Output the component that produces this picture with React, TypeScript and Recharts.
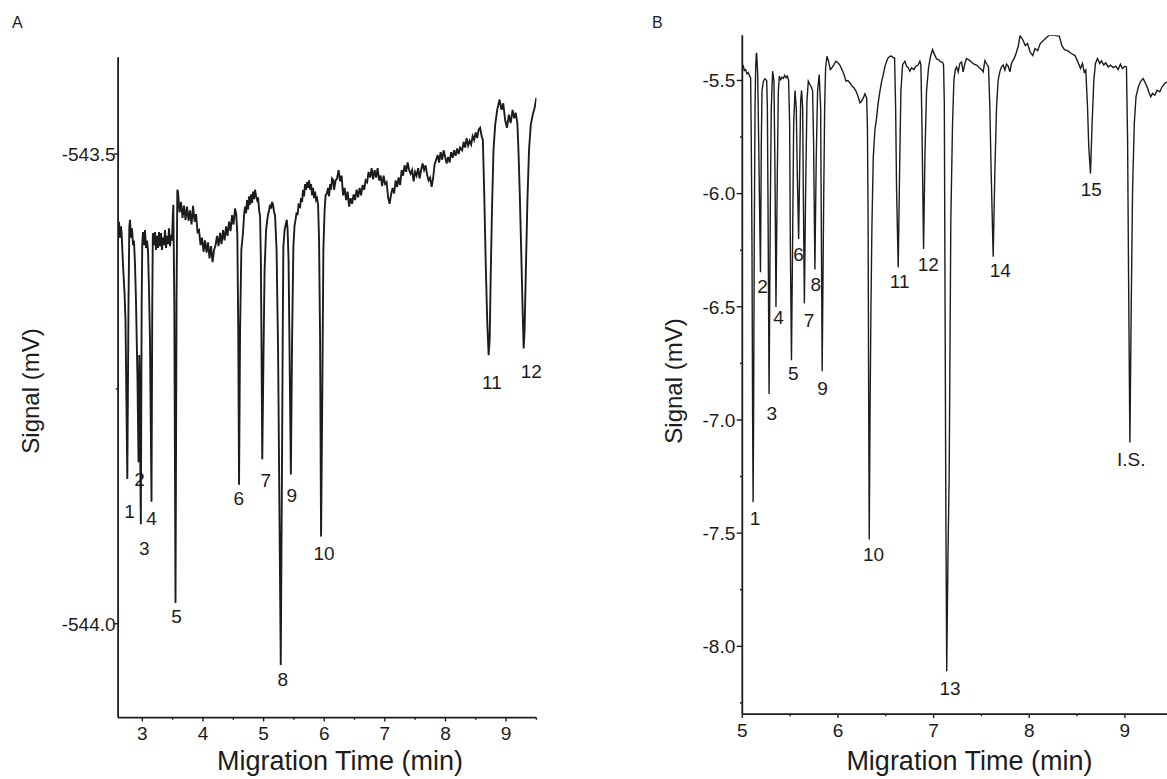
import React from 'react';
import { LineChart, Line, XAxis, YAxis, ReferenceDot } from 'recharts';

// ---------- Panel A data (migration time, min / signal, mV) ----------
const timeA = [
  2.600, 2.615, 2.631, 2.648, 2.659, 2.681, 2.706, 2.722, 2.752, 2.772, 2.785, 2.796, 2.813, 2.829, 2.846, 2.862,
  2.879, 2.895, 2.920, 2.937, 2.950, 2.975, 2.989, 2.999, 3.011, 3.027, 3.044, 3.060, 3.077, 3.093, 3.110, 3.126,
  3.151, 3.164, 3.173, 3.192, 3.209, 3.225, 3.242, 3.258, 3.275, 3.291, 3.308, 3.324, 3.341, 3.357, 3.374, 3.390,
  3.407, 3.424, 3.440, 3.457, 3.473, 3.489, 3.503, 3.511, 3.527, 3.547, 3.564, 3.577,
  3.588, 3.613, 3.638, 3.663, 3.687, 3.712, 3.737, 3.762, 3.786, 3.811, 3.836, 3.861, 3.886, 3.910, 3.935, 3.960,
  3.985, 4.009, 4.034, 4.059, 4.084, 4.108, 4.133, 4.158, 4.183, 4.207, 4.232, 4.257, 4.282, 4.306, 4.331, 4.356,
  4.381, 4.404, 4.430, 4.455, 4.480, 4.504, 4.529, 4.549,
  4.567, 4.582, 4.595, 4.612, 4.633, 4.661, 4.678, 4.694, 4.711, 4.727, 4.744, 4.760, 4.777, 4.793, 4.810, 4.826,
  4.843, 4.859, 4.876, 4.893, 4.909, 4.926, 4.942,
  4.955, 4.966, 4.978, 4.999, 5.016, 5.041, 5.057, 5.074, 5.090, 5.107, 5.123, 5.140, 5.156, 5.173, 5.189,
  5.214, 5.239, 5.260, 5.283, 5.305, 5.316, 5.326, 5.346, 5.362, 5.382, 5.395,
  5.412, 5.428, 5.450, 5.470, 5.491, 5.511, 5.527, 5.544, 5.560, 5.577, 5.602, 5.618, 5.635, 5.651, 5.668, 5.684,
  5.701, 5.717, 5.734, 5.750, 5.767, 5.783, 5.800, 5.816, 5.833, 5.849, 5.866, 5.882, 5.899,
  5.915, 5.932, 5.948, 5.970, 5.986, 6.006, 6.023, 6.042, 6.064, 6.080, 6.097, 6.113, 6.130, 6.151,
  6.163, 6.188, 6.212, 6.237, 6.262, 6.287, 6.311, 6.336, 6.361, 6.386, 6.410, 6.435, 6.460, 6.485, 6.509, 6.534,
  6.559, 6.584, 6.608, 6.633, 6.658, 6.683, 6.707, 6.732, 6.757, 6.782, 6.806, 6.831, 6.856, 6.881, 6.905, 6.930,
  6.955, 6.980, 7.004, 7.029, 7.054, 7.079, 7.103, 7.128, 7.153, 7.178, 7.202, 7.227, 7.252, 7.277, 7.301, 7.326,
  7.351, 7.376, 7.400, 7.425, 7.450, 7.475, 7.499, 7.524, 7.549, 7.574, 7.598, 7.623, 7.648, 7.673, 7.697, 7.722,
  7.747, 7.772, 7.796, 7.821, 7.846, 7.871, 7.895, 7.920, 7.945, 7.970, 7.994, 8.019, 8.044, 8.069, 8.093, 8.118,
  8.143, 8.168, 8.193, 8.217, 8.242, 8.275, 8.300, 8.325, 8.349, 8.374, 8.399, 8.424, 8.448, 8.473, 8.498, 8.523,
  8.547, 8.572, 8.597, 8.617,
  8.638, 8.663, 8.688, 8.712, 8.729, 8.745, 8.767, 8.792, 8.820, 8.853, 8.892, 8.924, 8.953, 8.985, 9.014, 9.046,
  9.075, 9.107, 9.133, 9.158, 9.186, 9.204,
  9.224, 9.249, 9.273, 9.290, 9.305, 9.326, 9.352, 9.378, 9.407, 9.440, 9.470, 9.500,
];
const signalA = [
  -543.581, -543.572, -543.589, -543.577, -543.586, -543.618, -543.648, -543.677, -543.846, -543.656, -543.578, -543.570, -543.589, -543.579, -543.597, -543.592,
  -543.618, -543.656, -543.741, -543.828, -543.714, -543.894, -543.656, -543.595, -543.583, -543.597, -543.581, -543.600, -543.592, -543.602, -543.645, -543.698,
  -543.870, -543.656, -543.584, -543.597, -543.583, -543.602, -543.587, -543.600, -543.583, -543.598, -543.584, -543.602, -543.589, -543.597, -543.581, -543.600,
  -543.587, -543.596, -543.579, -543.598, -543.586, -543.592, -543.565, -543.554, -543.656, -543.978, -543.656, -543.538,
  -543.540, -543.562, -543.551, -543.568, -543.555, -543.570, -543.556, -543.571, -543.560, -543.575, -543.555, -543.572, -543.564, -543.583, -543.581, -543.597,
  -543.589, -543.604, -543.592, -543.605, -543.594, -543.611, -543.598, -543.615, -543.602, -543.597, -543.587, -543.598, -543.584, -543.596, -543.581, -543.592,
  -543.577, -543.587, -543.572, -543.582, -543.565, -543.575, -543.558, -543.564,
  -543.586, -543.688, -543.852, -543.688, -543.602, -543.583, -543.565, -543.556, -543.563, -543.549, -543.559, -543.545, -543.554, -543.543, -543.552, -543.540,
  -543.548, -543.538, -543.545, -543.549, -543.546, -543.560, -543.566,
  -543.613, -543.709, -543.825, -543.709, -543.624, -543.581, -543.572, -543.564, -543.560, -543.554, -543.558, -543.551, -543.554, -543.562, -543.565,
  -543.602, -543.709, -543.869, -544.044, -543.815, -543.688, -543.599, -543.581, -543.576, -543.570, -543.579,
  -543.613, -543.709, -543.841, -543.698, -543.599, -543.576, -543.570, -543.562, -543.565, -543.554, -543.556, -543.547, -543.551, -543.538, -543.545, -543.532,
  -543.538, -543.530, -543.536, -543.528, -543.538, -543.532, -543.544, -543.536, -543.547, -543.540, -543.549, -543.547, -543.554,
  -543.592, -543.698, -543.907, -543.741, -543.602, -543.560, -543.544, -543.542, -543.536, -543.545, -543.532, -543.538, -543.526, -543.528,
  -543.538, -543.528, -543.526, -543.517, -543.529, -543.523, -543.544, -543.536, -543.549, -543.540, -543.556, -543.547, -543.553, -543.543, -543.549, -543.538,
  -543.546, -543.536, -543.544, -543.533, -543.538, -543.528, -543.530, -543.519, -543.525, -543.515, -543.527, -543.517, -543.525, -543.515, -543.528, -543.523,
  -543.534, -543.523, -543.532, -543.530, -543.546, -543.553, -543.543, -543.536, -543.542, -543.528, -543.535, -543.525, -543.533, -543.517, -543.523, -543.512,
  -543.519, -543.509, -543.517, -543.521, -543.517, -543.529, -543.519, -543.523, -543.515, -543.526, -543.517, -543.510, -543.517, -543.512, -543.522, -543.528,
  -543.525, -543.535, -543.526, -543.511, -543.506, -543.501, -543.509, -543.498, -543.506, -543.496, -543.503, -543.510, -543.503, -543.509, -543.498, -543.504,
  -543.496, -543.502, -543.494, -543.500, -543.493, -543.496, -543.487, -543.493, -543.483, -543.491, -543.486, -543.490, -543.481, -543.485, -543.477, -543.483,
  -543.474, -543.472, -543.481, -543.485,
  -543.538, -543.613, -543.677, -543.714, -543.698, -543.634, -543.560, -543.496, -543.469, -543.453, -543.442, -543.453, -543.446, -543.464, -543.472, -543.458,
  -543.467, -543.453, -543.462, -543.456, -543.467, -543.496,
  -543.538, -543.602, -543.666, -543.707, -543.688, -543.624, -543.549, -543.496, -543.469, -543.458, -543.451, -543.440,
];
const peakNamesA = ['1', '2', '3', '4', '5', '6', '7', '8', '9', '10', '11', '12'];
const peakLabelTimeA = [2.787, 2.955, 3.030, 3.152, 3.566, 4.590, 5.035, 5.315, 5.467, 5.997, 8.765, 9.415];
const peakLabelSignalA = [-543.880, -543.846, -543.919, -543.888, -543.992, -543.866, -543.847, -544.059, -543.863, -543.925, -543.743, -543.731];
const xTicksA = [3, 3.5, 4, 4.5, 5, 5.5, 6, 6.5, 7, 7.5, 8, 8.5, 9, 9.5];
const yTicksA = [-544.0, -543.75, -543.5];

// ---------- Panel B data ----------
const timeB = [
  5.000, 5.011, 5.021, 5.035, 5.049, 5.063, 5.077, 5.087, 5.094, 5.101, 5.108, 5.113, 5.118, 5.125, 5.133, 5.140,
  5.146, 5.150, 5.161, 5.171, 5.190, 5.199, 5.206, 5.220, 5.237, 5.255, 5.262, 5.269, 5.280, 5.293, 5.303, 5.317,
  5.331, 5.342, 5.352, 5.366, 5.377, 5.387, 5.401, 5.415, 5.429, 5.443, 5.457, 5.471, 5.484, 5.495, 5.502, 5.514,
  5.526, 5.537, 5.551, 5.564, 5.575, 5.589, 5.600, 5.610, 5.620, 5.631, 5.638, 5.649, 5.662, 5.676, 5.690, 5.707,
  5.725, 5.735, 5.745, 5.759, 5.773, 5.787, 5.804, 5.819, 5.825, 5.835, 5.850, 5.861, 5.871, 5.885, 5.902, 5.920,
  5.937, 5.958, 5.979, 6.000, 6.021, 6.042, 6.063, 6.084, 6.104, 6.125, 6.146, 6.167, 6.188, 6.209, 6.230, 6.247,
  6.265, 6.282, 6.300,
  6.308, 6.315, 6.321, 6.327, 6.335, 6.345, 6.355, 6.369, 6.386, 6.404, 6.420, 6.439, 6.456, 6.474, 6.490, 6.509,
  6.525, 6.544, 6.561, 6.578, 6.592,
  6.603, 6.613, 6.630, 6.644, 6.658, 6.676, 6.700, 6.717, 6.735, 6.752, 6.770, 6.794, 6.815, 6.836, 6.857, 6.867,
  6.878, 6.895, 6.909, 6.926, 6.947, 6.968, 6.989, 7.010, 7.031, 7.052, 7.073, 7.094, 7.104,
  7.112, 7.120, 7.128, 7.137, 7.150, 7.163, 7.180, 7.198, 7.212, 7.226, 7.240, 7.257, 7.274, 7.292, 7.309, 7.327,
  7.344, 7.372, 7.396, 7.421, 7.449, 7.476, 7.501, 7.518, 7.536, 7.553, 7.574,
  7.588, 7.602, 7.623, 7.640, 7.658, 7.675, 7.692, 7.710, 7.727, 7.745, 7.762, 7.780, 7.797, 7.814, 7.832, 7.849,
  7.867, 7.873, 7.884, 7.904, 7.932, 7.959, 7.982, 8.010, 8.037, 8.060, 8.088, 8.115, 8.146, 8.177, 8.209, 8.244,
  8.283, 8.314, 8.341, 8.368, 8.400, 8.439, 8.478, 8.509, 8.536, 8.556, 8.575, 8.591,
  8.609, 8.622, 8.640, 8.657, 8.675, 8.692, 8.713, 8.737, 8.755, 8.779, 8.800, 8.824, 8.849, 8.877, 8.905, 8.929,
  8.953, 8.974, 8.999, 9.016,
  9.028, 9.038, 9.052, 9.066, 9.080, 9.098, 9.116, 9.141, 9.162, 9.190, 9.208, 9.232, 9.253, 9.270, 9.288, 9.312,
  9.336, 9.364, 9.389, 9.417, 9.437,
];
const signalB = [
  -5.444, -5.437, -5.456, -5.452, -5.471, -5.466, -5.481, -5.488, -5.767, -6.208, -7.000, -7.363, -7.000, -6.200, -5.621, -5.444,
  -5.385, -5.378, -5.474, -5.767, -6.347, -5.767, -5.547, -5.503, -5.493, -5.500, -5.621, -6.061, -6.885, -6.061, -5.621, -5.459,
  -5.503, -5.914, -6.501, -5.914, -5.547, -5.481, -5.496, -5.486, -5.491, -5.477, -5.488, -5.481, -5.500, -5.694, -6.208, -6.736,
  -6.208, -5.694, -5.544, -5.621, -5.914, -6.200, -5.885, -5.591, -5.544, -5.621, -5.988, -6.485, -5.988, -5.591, -5.503, -5.518,
  -5.532, -5.547, -5.767, -6.335, -5.841, -5.547, -5.474, -5.621, -6.061, -6.785, -6.061, -5.621, -5.444, -5.393, -5.415, -5.452,
  -5.444, -5.430, -5.415, -5.422, -5.433, -5.452, -5.474, -5.503, -5.500, -5.510, -5.525, -5.532, -5.547, -5.569, -5.599, -5.591,
  -5.577, -5.559, -5.577,
  -5.700, -6.100, -6.900, -7.528, -7.000, -6.500, -6.150, -5.841, -5.720, -5.665, -5.600, -5.547, -5.505, -5.474, -5.440, -5.415,
  -5.400, -5.393, -5.393, -5.400, -5.400,
  -5.621, -5.988, -6.325, -5.914, -5.547, -5.430, -5.415, -5.437, -5.444, -5.459, -5.444, -5.452, -5.437, -5.433, -5.415, -5.430,
  -5.694, -6.245, -5.841, -5.547, -5.444, -5.393, -5.364, -5.386, -5.405, -5.408, -5.418, -5.420, -5.432,
  -5.600, -6.500, -7.400, -8.110, -7.600, -7.235, -6.117, -5.690, -5.499, -5.454, -5.440, -5.462, -5.425, -5.418, -5.462, -5.425,
  -5.403, -5.410, -5.418, -5.428, -5.432, -5.443, -5.452, -5.462, -5.413, -5.425, -5.440,
  -5.616, -5.911, -6.279, -5.911, -5.616, -5.499, -5.462, -5.440, -5.432, -5.454, -5.428, -5.437, -5.462, -5.425, -5.410, -5.396,
  -5.374, -5.364, -5.351, -5.302, -5.320, -5.346, -5.337, -5.375, -5.390, -5.359, -5.368, -5.337, -5.324, -5.311, -5.300, -5.300,
  -5.302, -5.304, -5.346, -5.364, -5.368, -5.381, -5.390, -5.419, -5.447, -5.425, -5.463, -5.454,
  -5.616, -5.793, -5.911, -5.690, -5.499, -5.425, -5.403, -5.425, -5.413, -5.432, -5.422, -5.440, -5.432, -5.443, -5.437, -5.452,
  -5.428, -5.447, -5.437, -5.440,
  -5.763, -6.352, -7.100, -6.499, -5.984, -5.690, -5.572, -5.528, -5.506, -5.491, -5.506, -5.528, -5.555, -5.572, -5.557, -5.565,
  -5.543, -5.550, -5.528, -5.513, -5.506,
];
const peakNamesB = ['1', '2', '3', '4', '5', '6', '7', '8', '9', '10', '11', '12', '13', '14', '15', 'I.S.'];
const peakLabelTimeB = [5.133, 5.211, 5.308, 5.378, 5.534, 5.589, 5.698, 5.768, 5.838, 6.372, 6.645, 6.945, 7.172, 7.698, 8.648, 9.066];
const peakLabelSignalB = [-7.435, -6.407, -6.968, -6.546, -6.792, -6.268, -6.561, -6.398, -6.858, -7.594, -6.385, -6.310, -8.187, -6.340, -5.980, -7.172];
const xTicksB = [5, 5.5, 6, 6.5, 7, 7.5, 8, 8.5, 9];
const yTicksB = [-8.25, -8.0, -7.75, -7.5, -7.25, -7.0, -6.75, -6.5, -6.25, -6.0, -5.75, -5.5];

const dataA = timeA.map((t, i) => ({ t, v: signalA[i] }));
const dataB = timeB.map((t, i) => ({ t, v: signalB[i] }));

const FONT = '"Liberation Sans", Arial, Helvetica, sans-serif';
const INK = '#1c1c1c';
const TICK_FS = 19;

const isMultiple = (v: number, step: number) => Math.abs(v / step - Math.round(v / step)) < 1e-6;

function makeXTick(axisY: number) {
  return (props: any) => {
    const { x, payload } = props;
    const v = payload.value as number;
    const major = isMultiple(v, 1);
    return (
      <g>
        <line x1={x} x2={x} y1={axisY} y2={axisY + (major ? 3.8 : 2)} stroke={INK} strokeWidth={1.4} />
        {major && (
          <text x={x} y={axisY + 22.3} textAnchor="middle" fontSize={TICK_FS} fontFamily={FONT} fill={INK}>
            {String(v)}
          </text>
        )}
      </g>
    );
  };
}

function makeYTick(axisX: number, majorLen: number, labelGap: number) {
  return (props: any) => {
    const { y, payload } = props;
    const v = payload.value as number;
    const major = isMultiple(v, 0.5);
    return (
      <g>
        <line x1={axisX - (major ? majorLen : 2.3)} x2={axisX} y1={y} y2={y} stroke={INK} strokeWidth={1.4} />
        {major && (
          <text x={axisX - labelGap} y={y} dy="0.36em" textAnchor="end" fontSize={TICK_FS} fontFamily={FONT} fill={INK}>
            {v.toFixed(1)}
          </text>
        )}
      </g>
    );
  };
}

const peakText = (name: string) => (p: any) => (
  <text x={p.cx} y={p.cy} dy="0.36em" textAnchor="middle" fontSize={19} fontFamily={FONT} fill={INK}>
    {name}
  </text>
);

const xTitle = (cx: number) => () => (
  <text x={cx} y={770} textAnchor="middle" fontSize={27} fontFamily={FONT} fill={INK}>
    Migration Time (min)
  </text>
);
const yTitle = (cx: number, cy: number) => () => (
  <text
    transform={`translate(${cx},${cy}) rotate(-90)`}
    dy="0.36em"
    textAnchor="middle"
    fontSize={24}
    fontFamily={FONT}
    fill={INK}
  >
    Signal (mV)
  </text>
);

export default function App() {
  return (
    <div style={{ position: 'absolute', left: 0, top: 0, width: 1167, height: 779, overflow: 'hidden', background: '#fff' }}>
      <div style={{ position: 'absolute', left: 0, top: 0 }}>
        <LineChart width={580} height={779} data={dataA} margin={{ top: 57.3, right: 43.6, bottom: 31.3, left: 0 }}>
          <XAxis
            type="number"
            dataKey="t"
            domain={[2.6, 9.5]}
            ticks={xTicksA}
            interval={0}
            allowDataOverflow
            height={30}
            tickLine={false}
            axisLine={{ stroke: INK, strokeWidth: 1.8 }}
            tick={makeXTick(717.7)}
            label={xTitle(340)}
          />
          <YAxis
            type="number"
            domain={[-544.1, -543.397]}
            ticks={yTicksA}
            interval={0}
            allowDataOverflow
            width={118.1}
            tickLine={false}
            axisLine={{ stroke: INK, strokeWidth: 1.8 }}
            tick={makeYTick(118.1, 4.3, 2.5)}
            label={yTitle(30, 391)}
          />
          <Line type="linear" dataKey="v" stroke={INK} strokeWidth={1.9} dot={false} isAnimationActive={false} />
          {peakNamesA.map((n, i) => (
            <ReferenceDot key={'a' + n} x={peakLabelTimeA[i]} y={peakLabelSignalA[i]} r={0} shape={peakText(n)} />
          ))}
        </LineChart>
      </div>
      <div style={{ position: 'absolute', left: 580, top: 0 }}>
        <LineChart width={587} height={779} data={dataB} margin={{ top: 35.2, right: 0, bottom: 34.8, left: 0 }}>
          <XAxis
            type="number"
            dataKey="t"
            domain={[5, 9.44]}
            ticks={xTicksB}
            interval={0}
            allowDataOverflow
            height={30}
            tickLine={false}
            axisLine={{ stroke: INK, strokeWidth: 1.8 }}
            tick={makeXTick(714.2)}
            label={xTitle(389.4)}
          />
          <YAxis
            type="number"
            domain={[-8.3, -5.3]}
            ticks={yTicksB}
            interval={0}
            allowDataOverflow
            width={162.3}
            tickLine={false}
            axisLine={{ stroke: INK, strokeWidth: 1.8 }}
            tick={makeYTick(162.3, 5.6, 7)}
            label={yTitle(93.6, 381)}
          />
          <Line type="linear" dataKey="v" stroke={INK} strokeWidth={1.4} dot={false} isAnimationActive={false} />
          {peakNamesB.map((n, i) => (
            <ReferenceDot key={'b' + n} x={peakLabelTimeB[i]} y={peakLabelSignalB[i]} r={0} shape={peakText(n)} />
          ))}
        </LineChart>
      </div>
      <svg width={1167} height={779} style={{ position: 'absolute', left: 0, top: 0, pointerEvents: 'none' }}>
        <text x={12} y={28} fontSize={16} fontFamily={FONT} fill={INK}>A</text>
        <text x={652} y={28} fontSize={16} fontFamily={FONT} fill={INK}>B</text>
      </svg>
    </div>
  );
}
